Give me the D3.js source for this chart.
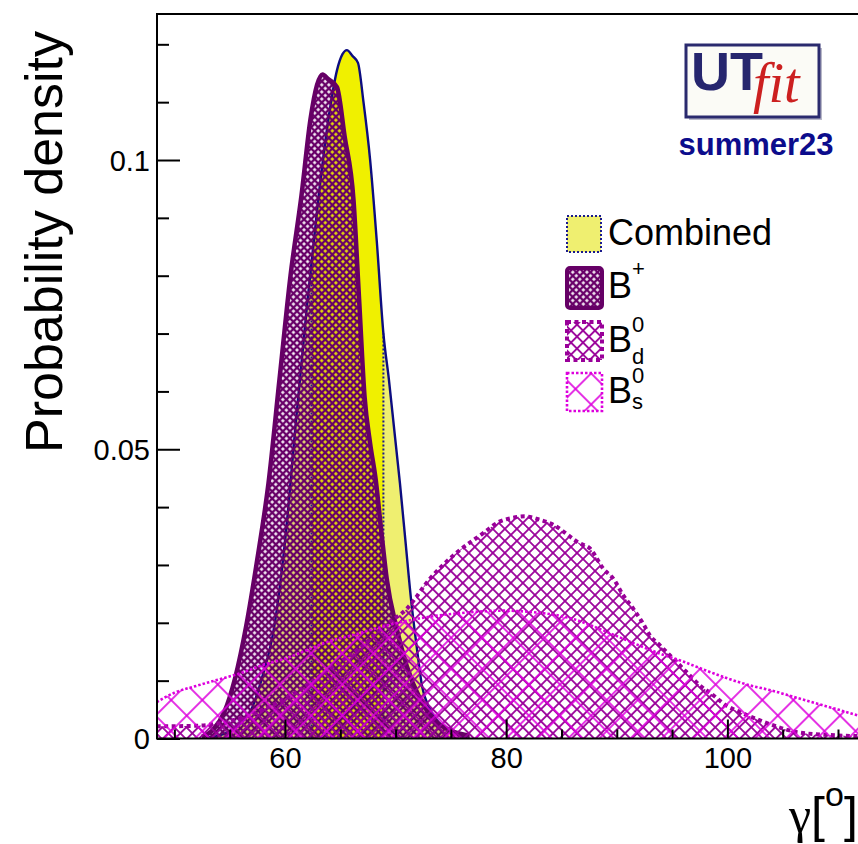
<!DOCTYPE html>
<html>
<head>
<meta charset="utf-8">
<script src="https://cdn.jsdelivr.net/npm/d3@7"></script>
<style>
  html, body { margin: 0; padding: 0; background: #ffffff; }
  svg { display: block; }
  text { font-family: "Liberation Sans", Arial, Helvetica, sans-serif; }
</style>
</head>
<body>
<svg id="chart" width="858" height="844"></svg>
<script>
// ---------------- data ----------------
const gammaCombined = [53, 54, 55, 56, 57, 58, 59, 60, 61, 62, 63, 64, 64.7, 65.2, 65.6, 66.1, 66.6, 67.1, 67.7, 68.3, 68.9, 69.4, 69.9, 70.4, 70.9, 71.4, 71.9, 72.4, 73.0, 73.6, 74.3, 75.0, 75.8, 76.5];
const densCombined  = [0.0002, 0.0005, 0.0012, 0.0026, 0.0052, 0.011, 0.019, 0.034, 0.055, 0.075, 0.093, 0.108, 0.1155, 0.1183, 0.1190, 0.1180, 0.1168, 0.1100, 0.1000, 0.086, 0.070, 0.062, 0.053, 0.044, 0.034, 0.024, 0.016, 0.0090, 0.0055, 0.0035, 0.0020, 0.0012, 0.0005, 0.0002];
const combinedRegion = [62.4, 68.9];

const gammaBplus = [52.5, 53.5, 54.5, 55.5, 56.5, 57.5, 58.5, 59.5, 60.5, 61.5, 62.3, 62.9, 63.4, 63.9, 64.7, 65.4, 66.2, 66.7, 67.2, 67.7, 68.2, 68.7, 69.2, 70.1, 71.0, 72.2, 73.4, 75.2, 76.7];
const densBplus  = [0.0003, 0.0015, 0.0045, 0.0105, 0.0195, 0.031, 0.044, 0.062, 0.080, 0.094, 0.107, 0.113, 0.1148, 0.1140, 0.1126, 0.104, 0.093, 0.076, 0.059, 0.051, 0.0448, 0.036, 0.0276, 0.019, 0.0126, 0.0069, 0.0034, 0.0012, 0.0005];

const gammaBd = [48.4, 52, 55, 58, 61, 64, 67, 69, 71.0, 73.1, 75.2, 78.0, 79.3, 80.5, 81.7, 82.9, 84.4, 85.3, 86.5, 87.6, 88.8, 89.7, 90.6, 91.5, 92.4, 93.0, 93.9, 95.1, 96.3, 97.5, 98.7, 99.9, 101.1, 102.6, 104.1, 106.3, 109.3, 112, 120];
const densBd  = [0.0021, 0.0022, 0.003, 0.005, 0.008, 0.012, 0.016, 0.0195, 0.0224, 0.0276, 0.0316, 0.0356, 0.0374, 0.0381, 0.0384, 0.0379, 0.0368, 0.0356, 0.0339, 0.0328, 0.0293, 0.0276, 0.0247, 0.0224, 0.0198, 0.0178, 0.0161, 0.0138, 0.0115, 0.0092, 0.0075, 0.0057, 0.0046, 0.0034, 0.0023, 0.0011, 0.0006, 0.0004, 0.0002];

const gammaBs = [48.4, 50, 52, 54, 56, 58, 60, 62, 64, 66, 68, 70, 72, 74, 76, 78, 80, 82, 84, 86, 88, 90, 92, 94, 96, 98, 100, 102, 104, 106, 108, 110, 112, 114, 120];
const densBs  = [0.0063, 0.0079, 0.0091, 0.0102, 0.0113, 0.0127, 0.0138, 0.0153, 0.0168, 0.0178, 0.0189, 0.0199, 0.0207, 0.0213, 0.0217, 0.0220, 0.0221, 0.0219, 0.0215, 0.0207, 0.0193, 0.0177, 0.0161, 0.0146, 0.0133, 0.0118, 0.0104, 0.0092, 0.0083, 0.0072, 0.0061, 0.0050, 0.0039, 0.0030, 0.0012];

const xTickValues = [60, 80, 100];
const xMinorTickValues = [50, 55, 65, 70, 75, 85, 90, 95, 105, 110, 115];
const yTickValues = [0, 0.05, 0.1];
const yTickLabels = ["0", "0.05", "0.1"];
const yMinorTickValues = [0.01, 0.02, 0.03, 0.04, 0.06, 0.07, 0.08, 0.09, 0.11, 0.12];

const legendLabels = ["Combined", "B+", "Bd0", "Bs0"];

// ---------------- layout ----------------
const svg = d3.select("#chart");
const frame = { left: 157, top: 14, right: 948.6, bottom: 738.5 };

const x = d3.scaleLinear().domain([48.43, 120]).range([frame.left, frame.right]);
const y = d3.scaleLinear().domain([0, 0.12524]).range([frame.bottom, frame.top]);

// ---------------- patterns ----------------
const defs = svg.append("defs");
function hatch(id, pitch, color, width) {
  const p = defs.append("pattern")
    .attr("id", id)
    .attr("patternUnits", "userSpaceOnUse")
    .attr("width", pitch).attr("height", pitch)
    .attr("patternTransform", "rotate(45)");
  [[0, 0, pitch, 0], [0, pitch, pitch, pitch], [0, 0, 0, pitch], [pitch, 0, pitch, pitch]].forEach(c => {
    p.append("line").attr("x1", c[0]).attr("y1", c[1]).attr("x2", c[2]).attr("y2", c[3])
      .attr("stroke", color).attr("stroke-width", width);
  });
}
hatch("hatchBplus", 5, "#680068", 2.4);
hatch("hatchBd", 8.5, "#990099", 1.8);
hatch("hatchBs", 22, "#dd00dd", 1.6);

defs.append("clipPath").attr("id", "plotClip")
  .append("rect").attr("x", frame.left).attr("y", frame.top)
  .attr("width", frame.right - frame.left).attr("height", frame.bottom - frame.top);
defs.append("clipPath").attr("id", "regionClip")
  .append("rect").attr("x", x(combinedRegion[0])).attr("y", frame.top)
  .attr("width", x(combinedRegion[1]) - x(combinedRegion[0])).attr("height", frame.bottom - frame.top);

// ---------------- series ----------------
const plot = svg.append("g").attr("clip-path", "url(#plotClip)");

function zipSeries(gs, ds) { return gs.map((g, i) => ({ g: g, v: ds[i] })); }
const area = d3.area().x(d => x(d.g)).y0(y(0)).y1(d => y(d.v)).curve(d3.curveMonotoneX);
const line = d3.line().x(d => x(d.g)).y(d => y(d.v)).curve(d3.curveMonotoneX);

const combined = zipSeries(gammaCombined, densCombined);
const bplus = zipSeries(gammaBplus, densBplus);
const bd = zipSeries(gammaBd, densBd);
const bs = zipSeries(gammaBs, densBs);

// Combined
plot.append("path").attr("d", area(combined)).attr("fill", "#efef70");
plot.append("path").attr("d", area(combined)).attr("fill", "#f0f000").attr("clip-path", "url(#regionClip)");
const interp = g => {
  for (let i = 0; i < gammaCombined.length - 1; i++) {
    if (g >= gammaCombined[i] && g <= gammaCombined[i + 1]) {
      const t = (g - gammaCombined[i]) / (gammaCombined[i + 1] - gammaCombined[i]);
      return densCombined[i] + t * (densCombined[i + 1] - densCombined[i]);
    }
  }
  return 0;
};
combinedRegion.forEach(g => {
  plot.append("line")
    .attr("x1", x(g)).attr("x2", x(g))
    .attr("y1", y(0)).attr("y2", y(interp(g)))
    .attr("stroke", "#1a1a8c").attr("stroke-width", 2).attr("stroke-dasharray", "2,2");
});
plot.append("path").attr("d", line(combined)).attr("fill", "none")
  .attr("stroke", "#0d0d80").attr("stroke-width", 2.4);

// B+
plot.append("path").attr("d", area(bplus)).attr("fill", "url(#hatchBplus)");
plot.append("path").attr("d", line(bplus)).attr("fill", "none")
  .attr("stroke", "#660066").attr("stroke-width", 4.5);

// Bd0
plot.append("path").attr("d", area(bd)).attr("fill", "url(#hatchBd)");
plot.append("path").attr("d", line(bd)).attr("fill", "none")
  .attr("stroke", "#990099").attr("stroke-width", 4).attr("stroke-dasharray", "4,3.5");

// Bs0
plot.append("path").attr("d", area(bs)).attr("fill", "url(#hatchBs)");
plot.append("path").attr("d", line(bs)).attr("fill", "none")
  .attr("stroke", "#dd00dd").attr("stroke-width", 2.6).attr("stroke-dasharray", "2.5,2");

// ---------------- axes ----------------
const xAxis = d3.axisBottom(x).tickValues(xTickValues).tickSize(-19).tickPadding(9)
  .tickFormat(d3.format("d"));
const xMinor = d3.axisBottom(x).tickValues(xMinorTickValues).tickSize(-9).tickFormat("");
const yAxis = d3.axisLeft(y).tickValues(yTickValues).tickSize(-23).tickPadding(7)
  .tickFormat((d, i) => yTickLabels[i]);
const yMinor = d3.axisLeft(y).tickValues(yMinorTickValues).tickSize(-12).tickFormat("");

function styleAxis(g) {
  g.select(".domain").remove();
  g.selectAll(".tick line").attr("stroke", "#000").attr("stroke-width", 2);
  g.selectAll("text").attr("fill", "#000").style("font-size", "29px")
    .style("font-family", "'Liberation Sans', Arial, sans-serif");
}
svg.append("g").attr("transform", `translate(0,${frame.bottom})`).call(xAxis).call(styleAxis);
svg.append("g").attr("transform", `translate(0,${frame.bottom})`).call(xMinor).call(styleAxis);
svg.append("g").attr("transform", `translate(${frame.left},0)`).call(yAxis).call(styleAxis)
  .selectAll("text").attr("dy", "0.35em");
svg.append("g").attr("transform", `translate(${frame.left},0)`).call(yMinor).call(styleAxis);

// frame
svg.append("rect")
  .attr("x", frame.left).attr("y", frame.top)
  .attr("width", frame.right - frame.left).attr("height", frame.bottom - frame.top)
  .attr("fill", "none").attr("stroke", "#000").attr("stroke-width", 2);

// axis titles
svg.append("text")
  .attr("transform", "translate(62,242) rotate(-90)")
  .attr("text-anchor", "middle")
  .style("font-size", "52px").attr("fill", "#000")
  .text("Probability density");

const xt = svg.append("text").attr("x", 789).attr("y", 832)
  .style("font-size", "50px").attr("fill", "#000");
xt.append("tspan").style("font-family", "'Liberation Serif', 'DejaVu Serif', serif").text("γ");
xt.append("tspan").text("[");
xt.append("tspan").attr("dy", -26).style("font-size", "34px").text("o");
xt.append("tspan").attr("dy", 26).text("]");

// ---------------- legend ----------------
const lg = svg.append("g");
const rowsY = [216, 268, 322, 373];
const baseY = [245, 298, 352, 403];
// Combined
lg.append("rect").attr("x", 567).attr("y", rowsY[0]).attr("width", 34).attr("height", 36)
  .attr("fill", "#efef70").attr("stroke", "#1a1a8c").attr("stroke-width", 2).attr("stroke-dasharray", "2,2");
lg.append("text").attr("x", 608).attr("y", baseY[0]).style("font-size", "36px").text(legendLabels[0]);
// B+
lg.append("rect").attr("x", 567).attr("y", rowsY[1]).attr("width", 35).attr("height", 40).attr("rx", 3)
  .attr("fill", "url(#hatchBplus)").attr("stroke", "#660066").attr("stroke-width", 4);
const t1 = lg.append("text").attr("x", 608).attr("y", baseY[1]).style("font-size", "36px");
t1.append("tspan").text("B");
t1.append("tspan").attr("dy", -22).style("font-size", "22px").text("+");
// Bd0
lg.append("rect").attr("x", 567).attr("y", rowsY[2]).attr("width", 35).attr("height", 38)
  .attr("fill", "url(#hatchBd)").attr("stroke", "#990099").attr("stroke-width", 4).attr("stroke-dasharray", "4,3.5");
const t2 = lg.append("text").attr("x", 608).attr("y", baseY[2]).style("font-size", "36px");
t2.append("tspan").text("B");
t2.append("tspan").attr("x", 632).attr("dy", -20).style("font-size", "22px").text("0");
t2.append("tspan").attr("x", 632).attr("dy", 32).style("font-size", "22px").text("d");
// Bs0
lg.append("rect").attr("x", 567).attr("y", rowsY[3]).attr("width", 35).attr("height", 38)
  .attr("fill", "url(#hatchBs)").attr("stroke", "#dd00dd").attr("stroke-width", 2.6).attr("stroke-dasharray", "2.5,2");
const t3 = lg.append("text").attr("x", 608).attr("y", baseY[3]).style("font-size", "36px");
t3.append("tspan").text("B");
t3.append("tspan").attr("x", 632).attr("dy", -20).style("font-size", "22px").text("0");
t3.append("tspan").attr("x", 632).attr("dy", 26).style("font-size", "22px").text("s");

// ---------------- UTfit logo ----------------
const logo = svg.append("g");
logo.append("rect").attr("x", 689).attr("y", 48).attr("width", 133).attr("height", 72).attr("fill", "#b8b8c8");
logo.append("rect").attr("x", 686).attr("y", 45).attr("width", 133).attr("height", 72)
  .attr("fill", "#fbfbf6").attr("stroke", "#2a2a6e").attr("stroke-width", 3);
logo.append("text").attr("x", 691).attr("y", 90).style("font-size", "54px").style("font-weight", "bold")
  .attr("fill", "#26266e").text("UT");
logo.append("text").attr("x", 753).attr("y", 102)
  .style("font-family", "'Liberation Serif', 'DejaVu Serif', serif").style("font-style", "italic")
  .style("font-size", "56px").attr("fill", "#cc2020").text("fit");
logo.append("text").attr("x", 756).attr("y", 155).attr("text-anchor", "middle")
  .style("font-size", "31px").style("font-weight", "bold").attr("fill", "#0c0c8c").text("summer23");
</script>
</body>
</html>
